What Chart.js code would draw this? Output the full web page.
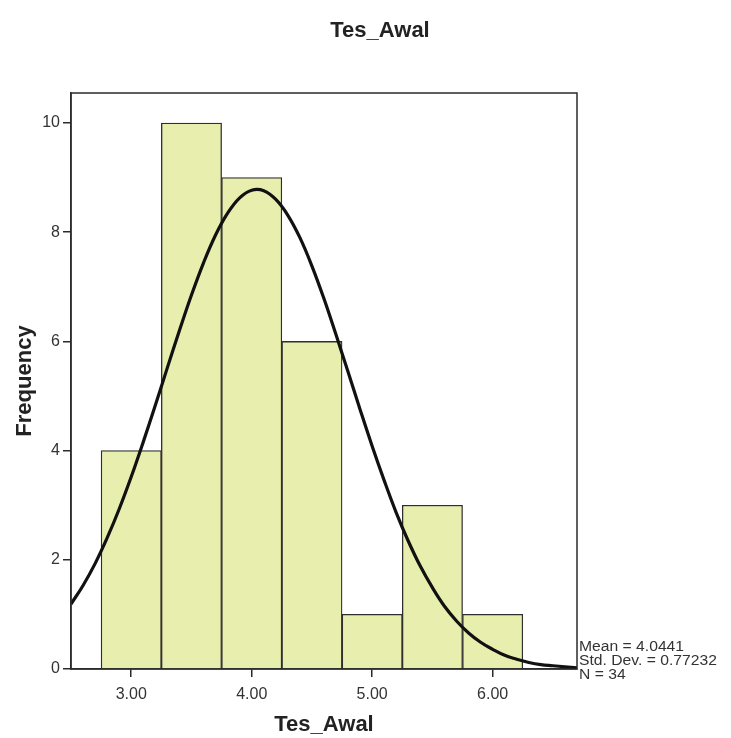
<!DOCTYPE html>
<html>
<head>
<meta charset="utf-8">
<script src="https://cdn.jsdelivr.net/npm/chart.js@4/dist/chart.umd.min.js"></script>
<style>
  html, body { margin: 0; padding: 0; background: #fff; }
  #wrap { width: 731px; height: 738px; }
</style>
</head>
<body>
<div id="wrap"><canvas id="hist"></canvas></div>
<script>
// histogram bins (centres) and counts
var binCenters = [3.0, 3.5, 4.0, 4.5, 5.0, 5.5, 6.0];
var frequencies = [4, 10, 9, 6, 1, 3, 1];

// normal curve
var curveX = [2.5, 2.6, 2.7, 2.8, 2.9, 3.0, 3.1, 3.2, 3.3, 3.4, 3.5, 3.6, 3.7, 3.8, 3.9,
              4.0, 4.1, 4.2, 4.3, 4.4, 4.5, 4.6, 4.7, 4.8, 4.9, 5.0, 5.1, 5.2, 5.3, 5.4,
              5.5, 5.6, 5.7, 5.8, 5.9, 6.0, 6.1, 6.2, 6.3, 6.4, 6.5, 6.6, 6.7];
var curveY = [1.19, 1.53, 1.93, 2.40, 2.93, 3.52, 4.16, 4.83, 5.52, 6.20, 6.85, 7.44, 7.95, 8.35, 8.63,
              8.77, 8.76, 8.60, 8.31, 7.90, 7.38, 6.78, 6.12, 5.44, 4.75, 4.08, 3.45, 2.86, 2.34, 1.88,
              1.49, 1.15, 0.88, 0.66, 0.49, 0.36, 0.25, 0.18, 0.12, 0.08, 0.06, 0.04, 0.02];

var xTicks = [3, 4, 5, 6];
var yTicks = [0, 2, 4, 6, 8, 10];
var statsLines = ['Mean = 4.0441', 'Std. Dev. = 0.77232', 'N = 34'];
var chartTitle = 'Tes_Awal';

var FONT = '"Liberation Sans", Arial, Helvetica, sans-serif';

var extras = {
  id: 'extras',
  afterDraw: function (chart) {
    var ctx = chart.ctx;
    var a = chart.chartArea;
    ctx.save();
    // box round the plot
    ctx.strokeStyle = '#2b2b2b';
    ctx.lineWidth = 1.5;
    ctx.strokeRect(a.left, a.top, a.right - a.left, a.bottom - a.top);
    // title
    ctx.fillStyle = '#222';
    ctx.font = 'bold 22px ' + FONT;
    ctx.textAlign = 'center';
    ctx.textBaseline = 'middle';
    ctx.fillText(chartTitle, 380, 31);
    ctx.restore();
    // stats text, a bit wide like the scan
    ctx.save();
    ctx.translate(a.right + 2, 0);
    ctx.scale(1.12, 1);
    ctx.font = '14px ' + FONT;
    ctx.textAlign = 'left';
    ctx.textBaseline = 'middle';
    ctx.fillStyle = '#333';
    statsLines.forEach(function (s, i) {
      ctx.fillText(s, 0, 647 + i * 14.2);
    });
    ctx.restore();
  }
};

var ctx = document.getElementById('hist').getContext('2d');
var myChart = new Chart(ctx, {
  type: 'bar',
  data: {
    datasets: [{
      type: 'line',
      label: 'Normal',
      data: curveX.map(function (x, i) { return { x: x, y: curveY[i] }; }),
      borderColor: '#111',
      borderWidth: 3.2,
      pointRadius: 0,
      tension: 0.4,
      fill: false,
      order: 0
    }, {
      type: 'bar',
      label: 'Frequency',
      data: binCenters.map(function (x, i) { return { x: x, y: frequencies[i] }; }),
      backgroundColor: '#e8efae',
      borderColor: '#2e2e2e',
      borderWidth: 1.3,
      barPercentage: 1,
      categoryPercentage: 1,
      order: 1
    }]
  },
  options: {
    responsive: true,
    maintainAspectRatio: false,
    animation: false,
    layout: { padding: { top: 93, right: 154, left: 0, bottom: 0 } },
    plugins: {
      legend: { display: false },
      title: { display: false },
      tooltip: { enabled: false }
    },
    scales: {
      x: {
        type: 'linear',
        min: 2.5,
        max: 6.7,
        offset: false,
        afterFit: function (s) { s.height = 69; },
        afterBuildTicks: function (s) { s.ticks = xTicks.map(function (v) { return { value: v }; }); },
        grid: { offset: false, drawOnChartArea: false, drawTicks: true, tickLength: 8, color: '#2b2b2b', lineWidth: 1.5 },
        border: { color: '#2b2b2b', width: 1.5 },
        ticks: {
          padding: 8,
          color: '#333',
          font: { family: FONT, size: 16 },
          maxRotation: 0,
          callback: function (v) { return Number(v).toFixed(2); }
        },
        title: {
          display: true,
          text: 'Tes_Awal',
          color: '#222',
          font: { family: FONT, size: 22, weight: 'bold' },
          padding: { top: 0, bottom: 0 }
        }
      },
      y: {
        min: 0,
        max: 10.55,
        afterFit: function (s) { s.width = 71; },
        afterBuildTicks: function (s) { s.ticks = yTicks.map(function (v) { return { value: v }; }); },
        grid: { drawOnChartArea: false, drawTicks: true, tickLength: 8, color: '#2b2b2b', lineWidth: 1.5 },
        border: { color: '#2b2b2b', width: 1.5 },
        ticks: {
          padding: 3,
          color: '#333',
          font: { family: FONT, size: 16 }
        },
        title: {
          display: true,
          text: 'Frequency',
          color: '#222',
          font: { family: FONT, size: 22, weight: 'bold' },
          padding: { top: 12, bottom: 0 }
        }
      }
    }
  },
  plugins: [extras]
});
</script>
</body>
</html>
